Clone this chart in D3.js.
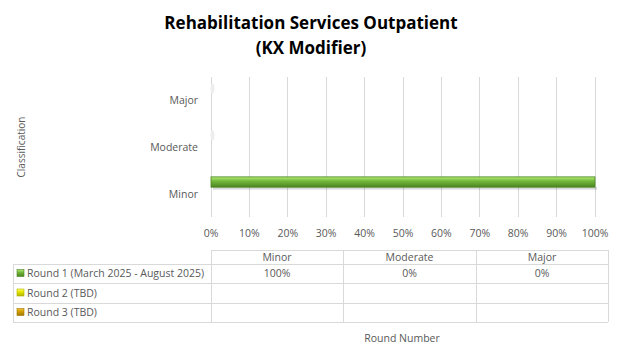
<!DOCTYPE html>
<html><head><meta charset="utf-8">
<script src="https://cdn.jsdelivr.net/npm/d3@7"></script>
<style>
body{margin:0;background:#fff;}
text{font-family:"Open Sans","Noto Sans",sans-serif;}
</style></head>
<body><svg id="c" width="621" height="363"></svg>
<script>
const categories = ["Major","Moderate","Minor"];
const tableCategories = ["Minor","Moderate","Major"];
const seriesNames = ["Round 1 (March 2025 - August 2025)","Round 2 (TBD)","Round 3 (TBD)"];
const round1 = {Minor:1.00, Moderate:0, Major:0};
const round2 = {Minor:null, Moderate:null, Major:null};
const round3 = {Minor:null, Moderate:null, Major:null};
const ticks = [0,0.1,0.2,0.3,0.4,0.5,0.6,0.7,0.8,0.9,1.0];
const seriesData = [round1, round2, round3];
const seriesColors = [["#b2ec78","#74b83c","#4a8420"],["#ffff66","#e6e600","#b3b300"],["#f0c040","#d4a000","#a07800"]];

const svg = d3.select("#c");
const defs = svg.append("defs");
seriesColors.forEach((c,i)=>{
  const g = defs.append("linearGradient").attr("id","g"+i).attr("x1",0).attr("y1",0).attr("x2",0).attr("y2",1);
  g.append("stop").attr("offset","0%").attr("stop-color",c[0]);
  g.append("stop").attr("offset","40%").attr("stop-color",c[1]);
  g.append("stop").attr("offset","100%").attr("stop-color",c[2]);
});

// Title
svg.append("text").attr("x",311).attr("y",29).attr("text-anchor","middle")
  .attr("font-size",17).attr("font-weight","bold").attr("fill","#000").text("Rehabilitation Services Outpatient");
svg.append("text").attr("x",311).attr("y",54).attr("text-anchor","middle")
  .attr("font-size",17).attr("font-weight","bold").attr("fill","#000").text("(KX Modifier)");

const x = d3.scaleLinear().domain([0,1]).range([211,595]);
const y0 = d3.scaleBand().domain(categories).range([77,217]);
const y1 = d3.scaleBand().domain([0,1,2]).range([6,39]).padding(0.05);

// gridlines
svg.append("g").selectAll("line").data(ticks).join("line")
  .attr("x1",d=>x(d)).attr("x2",d=>x(d)).attr("y1",77).attr("y2",217)
  .attr("stroke","#d9d9d9").attr("stroke-width",1).attr("shape-rendering","crispEdges");

// x axis labels
svg.append("g").selectAll("text").data(ticks).join("text")
  .attr("x",d=>x(d)).attr("y",237).attr("text-anchor","middle")
  .attr("font-size",10.5).attr("fill","#595959").text(d=>d3.format(".0%")(d));

// y labels
svg.append("g").selectAll("text").data(categories).join("text")
  .attr("x",198).attr("y",d=>y0(d)+y0.bandwidth()/2+4).attr("text-anchor","end")
  .attr("font-size",10.5).attr("fill","#595959").text(d=>d);

svg.append("text").attr("transform","translate(25,147) rotate(-90)").attr("text-anchor","middle")
  .attr("font-size",10).attr("fill","#595959").text("Classification");

// bars
seriesData.forEach((s,i)=>{
  categories.forEach(cat=>{
    const v = s[cat];
    if(v===null||v===undefined) return;
    const yy = y0(cat)+y1(i), h = y1.bandwidth();
    const w = x(v)-x(0);
    if(w>0){
      svg.append("rect").attr("x",x(0)+2).attr("y",yy+h).attr("width",w).attr("height",2.5)
        .attr("fill","#000").attr("opacity",0.15);
      svg.append("rect").attr("x",x(0)).attr("y",yy).attr("width",w).attr("height",h)
        .attr("fill","url(#g"+i+")").attr("stroke",seriesColors[i][2]).attr("stroke-width",0.8);
    } else {
      svg.append("ellipse").attr("cx",x(0)+1.5).attr("cy",yy+h/2).attr("rx",2).attr("ry",h/2)
        .attr("fill","#eeeeee");
    }
  });
});

// data table
const colX = [211,343,476,608];
const rowY = [250,264,283,303,322];
const tg = svg.append("g").attr("stroke","#d9d9d9").attr("stroke-width",1).attr("shape-rendering","crispEdges");
tg.append("line").attr("x1",211).attr("x2",608).attr("y1",250).attr("y2",250);
rowY.slice(1).forEach(yv=>tg.append("line").attr("x1",13).attr("x2",608).attr("y1",yv).attr("y2",yv));
colX.forEach(xv=>tg.append("line").attr("x1",xv).attr("x2",xv).attr("y1",250).attr("y2",322));
tg.append("line").attr("x1",13).attr("x2",13).attr("y1",264).attr("y2",322);

tableCategories.forEach((cat,j)=>{
  svg.append("text").attr("x",(colX[j]+colX[j+1])/2).attr("y",260.5).attr("text-anchor","middle")
    .attr("font-size",10.5).attr("fill","#595959").text(cat);
});
seriesData.forEach((s,i)=>{
  const cy = (rowY[i+1]+rowY[i+2])/2;
  svg.append("rect").attr("x",17).attr("y",cy-4).attr("width",7).attr("height",7)
    .attr("fill","url(#g"+i+")").attr("stroke",seriesColors[i][2]).attr("stroke-width",0.6);
  svg.append("text").attr("x",27).attr("y",cy+3.5).attr("font-size",10.5).attr("fill","#595959").text(seriesNames[i]);
  tableCategories.forEach((cat,j)=>{
    const v = s[cat];
    if(v===null||v===undefined) return;
    svg.append("text").attr("x",(colX[j]+colX[j+1])/2).attr("y",cy+3.5).attr("text-anchor","middle")
      .attr("font-size",10.5).attr("fill","#595959").text(d3.format(".0%")(v));
  });
});

svg.append("text").attr("x",402).attr("y",342).attr("text-anchor","middle")
  .attr("font-size",10.5).attr("fill","#595959").text("Round Number");
</script></body></html>
